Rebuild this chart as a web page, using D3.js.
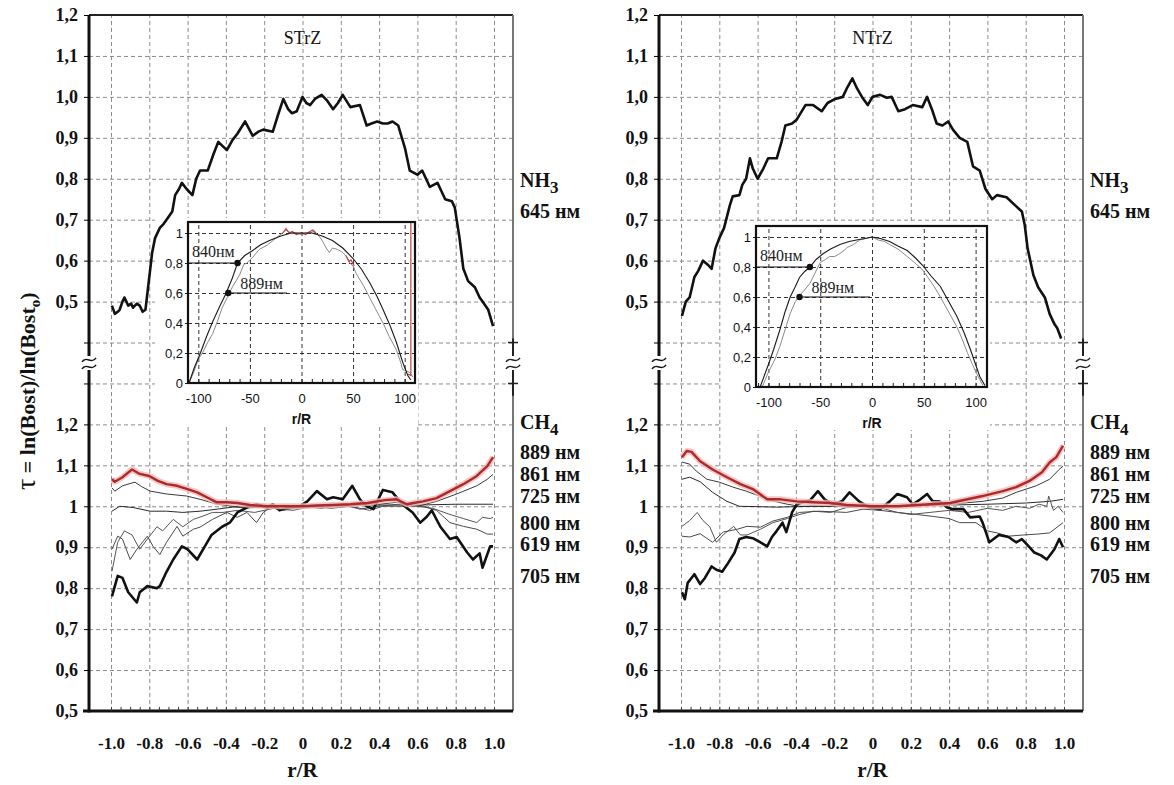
<!DOCTYPE html>
<html><head><meta charset="utf-8">
<script src="https://cdn.jsdelivr.net/npm/d3@7"></script>
<style>
body{margin:0;background:#fff}
svg{display:block}
</style>
</head><body><div id="chart"></div>
<script>
// ---- data ----
var panelTitles = ["STrZ", "NTrZ"];
var xTicks = [-1, -0.8, -0.6, -0.4, -0.2, 0, 0.2, 0.4, 0.6, 0.8, 1];
var xTickLabels = ["-1.0", "-0.8", "-0.6", "-0.4", "-0.2", "0", "0.2", "0.4", "0.6", "0.8", "1.0"];
var yTicks = [0.5, 0.6, 0.7, 0.8, 0.9, 1.0, 1.1, 1.2];
var yTopLabels = ["0,5", "0,6", "0,7", "0,8", "0,9", "1,0", "1,1", "1,2"];
var yBotLabels = ["0,5", "0,6", "0,7", "0,8", "0,9", "1", "1,1", "1,2"];
var gapTicks = [0.4, 0.3];
var insetXTicks = [-100, -50, 0, 50, 100];
var insetYTicks = [0, 0.2, 0.4, 0.6, 0.8, 1];
var insetYLabels = ["0", "0,2", "0,4", "0,6", "0,8", "1"];
var ch4Names = ["889 нм", "861 нм", "725 нм", "800 нм", "619 нм", "705 нм"];
var dotNames = ["840нм", "889нм"];

// NH3 645 nm
var nh3S = [[-0.995,0.49],[-0.98,0.47],[-0.965,0.475],[-0.955,0.48],[-0.94,0.50],[-0.93,0.51],[-0.91,0.49],[-0.895,0.495],[-0.885,0.485],[-0.865,0.495],[-0.85,0.49],[-0.835,0.475],[-0.82,0.48],[-0.805,0.54],[-0.795,0.58],[-0.785,0.62],[-0.77,0.655],[-0.745,0.68],[-0.725,0.69],[-0.71,0.70],[-0.68,0.72],[-0.665,0.76],[-0.645,0.775],[-0.63,0.79],[-0.605,0.775],[-0.585,0.765],[-0.575,0.76],[-0.555,0.80],[-0.535,0.82],[-0.495,0.82],[-0.465,0.86],[-0.44,0.89],[-0.395,0.87],[-0.365,0.895],[-0.34,0.91],[-0.30,0.94],[-0.26,0.905],[-0.23,0.915],[-0.205,0.92],[-0.155,0.915],[-0.125,0.96],[-0.10,0.995],[-0.075,0.97],[-0.055,0.96],[-0.03,0.965],[0,1.0],[0.02,0.985],[0.04,0.98],[0.065,0.995],[0.10,1.005],[0.13,0.99],[0.16,0.97],[0.185,0.985],[0.21,1.005],[0.25,0.975],[0.30,0.98],[0.335,0.93],[0.36,0.935],[0.39,0.94],[0.42,0.935],[0.445,0.935],[0.47,0.94],[0.50,0.93],[0.535,0.875],[0.56,0.82],[0.60,0.81],[0.625,0.82],[0.645,0.80],[0.665,0.78],[0.705,0.79],[0.725,0.77],[0.745,0.75],[0.78,0.745],[0.795,0.73],[0.82,0.655],[0.84,0.58],[0.865,0.55],[0.90,0.535],[0.925,0.51],[0.94,0.50],[0.97,0.48],[0.995,0.44]];
var nh3N = [[-0.995,0.465],[-0.975,0.50],[-0.955,0.51],[-0.93,0.56],[-0.91,0.575],[-0.885,0.60],[-0.86,0.59],[-0.84,0.58],[-0.82,0.63],[-0.80,0.655],[-0.775,0.68],[-0.745,0.735],[-0.73,0.757],[-0.695,0.76],[-0.68,0.785],[-0.66,0.80],[-0.64,0.85],[-0.625,0.825],[-0.60,0.80],[-0.57,0.825],[-0.545,0.85],[-0.50,0.85],[-0.475,0.89],[-0.455,0.93],[-0.42,0.935],[-0.395,0.945],[-0.35,0.98],[-0.31,0.98],[-0.265,0.965],[-0.235,0.985],[-0.195,0.995],[-0.155,1.0],[-0.135,1.02],[-0.105,1.045],[-0.08,1.02],[-0.055,1.0],[-0.025,0.98],[0,1.0],[0.04,1.005],[0.075,0.998],[0.10,1.0],[0.135,0.965],[0.17,0.97],[0.21,0.98],[0.26,0.975],[0.285,1.0],[0.31,0.97],[0.335,0.935],[0.365,0.93],[0.395,0.94],[0.42,0.92],[0.455,0.90],[0.495,0.89],[0.525,0.83],[0.56,0.82],[0.59,0.775],[0.625,0.75],[0.65,0.76],[0.70,0.755],[0.745,0.735],[0.78,0.72],[0.795,0.687],[0.81,0.63],[0.84,0.565],[0.865,0.535],[0.90,0.51],[0.925,0.47],[0.95,0.445],[0.965,0.435],[0.985,0.41]];

// CH4 group, STrZ
var s889 = [[-0.995,1.066],[-0.98,1.06],[-0.94,1.071],[-0.89,1.09],[-0.85,1.079],[-0.80,1.074],[-0.755,1.062],[-0.71,1.054],[-0.655,1.05],[-0.60,1.042],[-0.55,1.034],[-0.50,1.022],[-0.45,1.01],[-0.395,1.01],[-0.34,1.008],[-0.275,1.003],[-0.185,1.0],[-0.1,1.0],[0,1.0],[0.08,1.002],[0.16,1.003],[0.25,1.005],[0.34,1.008],[0.43,1.015],[0.49,1.017],[0.545,1.005],[0.58,1.008],[0.63,1.012],[0.70,1.02],[0.77,1.037],[0.84,1.054],[0.91,1.074],[0.965,1.098],[0.995,1.12]];
var s861 = [[-0.995,1.045],[-0.98,1.037],[-0.94,1.05],[-0.875,1.059],[-0.84,1.048],[-0.795,1.037],[-0.71,1.03],[-0.605,1.025],[-0.535,1.017],[-0.445,1.005],[-0.365,1.0],[-0.3,0.996],[-0.2,0.998],[-0.1,1.003],[0,1.0],[0.1,1.004],[0.2,1.0],[0.3,1.008],[0.4,1.005],[0.5,1.01],[0.6,1.0],[0.70,1.012],[0.805,1.03],[0.91,1.05],[0.965,1.066],[0.995,1.078]];
var s725 = [[-0.995,0.988],[-0.955,1.0],[-0.885,0.997],[-0.795,0.988],[-0.71,0.988],[-0.625,0.985],[-0.535,0.988],[-0.445,0.993],[-0.365,0.998],[-0.185,1.0],[0,1.0],[0.2,1.003],[0.4,1.003],[0.6,1.003],[0.8,1.005],[0.995,1.005]];
var s800 = [[-0.995,0.841],[-0.965,0.912],[-0.93,0.94],[-0.89,0.93],[-0.85,0.895],[-0.81,0.92],[-0.76,0.95],[-0.73,0.94],[-0.675,0.968],[-0.625,0.95],[-0.57,0.968],[-0.52,0.976],[-0.47,0.985],[-0.415,0.985],[-0.34,0.99],[-0.25,0.985],[-0.15,0.995],[-0.05,0.99],[0.05,1.0],[0.15,0.995],[0.25,1.0],[0.35,0.99],[0.42,1.0],[0.6,1.0],[0.68,0.995],[0.77,0.98],[0.84,0.97],[0.91,0.96],[0.94,0.973],[0.98,0.97],[0.995,0.973]];
var s619 = [[-0.995,0.895],[-0.965,0.927],[-0.94,0.92],[-0.90,0.87],[-0.865,0.895],[-0.81,0.927],[-0.78,0.902],[-0.745,0.882],[-0.71,0.912],[-0.655,0.951],[-0.625,0.927],[-0.57,0.944],[-0.535,0.949],[-0.47,0.968],[-0.395,0.985],[-0.34,0.973],[-0.29,0.985],[-0.24,0.96],[-0.205,0.985],[-0.17,0.997],[-0.1,0.99],[0,1.0],[0.1,0.995],[0.2,1.005],[0.3,0.993],[0.4,1.0],[0.5,1.005],[0.63,1.0],[0.70,0.99],[0.77,0.96],[0.84,0.951],[0.91,0.944],[0.965,0.932],[0.995,0.932]];
var s705 = [[-0.995,0.78],[-0.965,0.83],[-0.94,0.825],[-0.91,0.79],[-0.865,0.765],[-0.85,0.79],[-0.81,0.805],[-0.76,0.80],[-0.745,0.805],[-0.71,0.84],[-0.675,0.87],[-0.63,0.902],[-0.60,0.895],[-0.55,0.87],[-0.51,0.902],[-0.475,0.93],[-0.42,0.95],[-0.38,0.96],[-0.34,0.985],[-0.29,0.997],[-0.24,1.005],[-0.185,0.997],[-0.155,1.005],[-0.12,0.99],[-0.065,0.998],[-0.015,1.0],[0.025,1.012],[0.075,1.037],[0.128,1.017],[0.16,1.022],[0.21,1.017],[0.26,1.05],[0.30,1.017],[0.335,1.0],[0.37,0.993],[0.42,1.04],[0.47,1.034],[0.525,1.003],[0.575,0.985],[0.615,0.96],[0.65,0.975],[0.675,0.99],[0.72,0.95],[0.77,0.92],[0.805,0.925],[0.86,0.887],[0.89,0.87],[0.925,0.885],[0.94,0.85],[0.98,0.902],[0.995,0.902]];

// CH4 group, NTrZ
var n889 = [[-0.995,1.12],[-0.97,1.135],[-0.945,1.133],[-0.90,1.11],[-0.835,1.09],[-0.76,1.071],[-0.69,1.054],[-0.625,1.042],[-0.55,1.017],[-0.48,1.017],[-0.395,1.012],[-0.31,1.01],[-0.22,1.008],[-0.135,1.003],[0,1.0],[0.13,1.0],[0.30,1.005],[0.405,1.008],[0.575,1.025],[0.68,1.037],[0.75,1.047],[0.82,1.062],[0.885,1.083],[0.925,1.107],[0.96,1.12],[0.995,1.148]];
var n861 = [[-0.995,1.108],[-0.955,1.103],[-0.92,1.086],[-0.865,1.066],[-0.80,1.059],[-0.73,1.047],[-0.66,1.037],[-0.59,1.025],[-0.52,1.013],[-0.445,1.005],[-0.38,1.0],[0,1.0],[0.2,1.0],[0.4,1.005],[0.575,1.012],[0.68,1.02],[0.75,1.034],[0.855,1.05],[0.925,1.066],[0.975,1.09],[0.995,1.098]];
var n725 = [[-0.995,1.066],[-0.955,1.071],[-0.90,1.06],[-0.835,1.034],[-0.76,1.012],[-0.695,1.0],[-0.5,0.998],[-0.3,1.0],[0,1.0],[0.2,1.002],[0.4,1.003],[0.6,1.005],[0.8,1.008],[0.925,1.012],[0.995,1.017]];
var n800 = [[-0.995,0.951],[-0.955,0.965],[-0.915,0.985],[-0.885,0.965],[-0.85,0.95],[-0.815,0.912],[-0.78,0.93],[-0.725,0.951],[-0.69,0.93],[-0.655,0.93],[-0.585,0.944],[-0.52,0.96],[-0.445,0.97],[-0.38,0.98],[-0.31,0.988],[-0.22,0.985],[-0.135,0.997],[-0.05,1.0],[0.05,0.995],[0.13,0.985],[0.2,0.98],[0.3,0.985],[0.4,0.99],[0.5,0.985],[0.6,0.995],[0.68,0.99],[0.75,1.0],[0.82,0.995],[0.87,1.005],[0.91,1.0],[0.92,1.025],[0.945,0.99],[0.97,1.0],[0.995,0.985]];
var n619 = [[-0.995,0.927],[-0.955,0.925],[-0.90,0.933],[-0.835,0.912],[-0.78,0.937],[-0.705,0.944],[-0.655,0.951],[-0.585,0.949],[-0.52,0.964],[-0.445,0.973],[-0.38,0.985],[-0.28,0.988],[-0.135,0.985],[-0.05,0.993],[0.04,0.99],[0.13,0.985],[0.23,0.98],[0.32,0.975],[0.4,0.97],[0.455,0.96],[0.54,0.96],[0.6,0.94],[0.65,0.935],[0.71,0.927],[0.79,0.93],[0.86,0.932],[0.925,0.935],[0.995,0.96]];
var n705 = [[-0.995,0.79],[-0.98,0.773],[-0.965,0.813],[-0.93,0.834],[-0.90,0.81],[-0.875,0.825],[-0.84,0.853],[-0.815,0.845],[-0.785,0.84],[-0.76,0.857],[-0.72,0.887],[-0.695,0.92],[-0.66,0.925],[-0.625,0.922],[-0.585,0.912],[-0.55,0.902],[-0.525,0.925],[-0.50,0.94],[-0.47,0.96],[-0.45,0.937],[-0.42,0.985],[-0.395,1.005],[-0.365,1.01],[-0.325,1.015],[-0.285,1.037],[-0.25,1.017],[-0.21,1.005],[-0.16,1.012],[-0.12,1.034],[-0.07,1.012],[-0.015,0.997],[0.04,0.993],[0.09,1.012],[0.13,1.03],[0.18,1.022],[0.21,1.005],[0.25,1.017],[0.285,1.03],[0.315,1.012],[0.35,1.012],[0.39,0.997],[0.42,0.993],[0.475,0.993],[0.51,0.973],[0.56,0.975],[0.575,0.96],[0.61,0.912],[0.66,0.93],[0.71,0.925],[0.75,0.912],[0.78,0.92],[0.81,0.905],[0.845,0.887],[0.88,0.88],[0.91,0.87],[0.95,0.895],[0.975,0.92],[0.995,0.9]];

// insets: limb profiles, r/R in %
var insS840 = [[-109,0],[-104,0.1],[-98,0.2],[-92,0.31],[-86,0.41],[-80,0.5],[-73,0.6],[-67,0.7],[-62,0.8],[-55,0.85],[-48,0.88],[-40,0.92],[-31,0.95],[-20,0.98],[-10,1.0],[0,1.0],[10,1.0],[20,0.98],[30,0.95],[40,0.9],[50,0.83],[58,0.76],[66,0.67],[73,0.58],[79,0.49],[86,0.38],[92,0.27],[98,0.14],[103,0.05],[106,0.02]];
var insS889 = [[-109,0],[-104,0.08],[-100,0.16],[-96,0.2],[-91,0.27],[-86,0.33],[-81,0.42],[-77,0.5],[-72,0.57],[-67,0.64],[-60,0.72],[-56,0.79],[-53,0.8],[-47,0.84],[-41,0.89],[-33,0.92],[-24,0.97],[-15,1.02],[-10,1.0],[-5,1.0],[0,0.99],[4,1.0],[8,1.0],[11,1.01],[14,1.0],[17,0.98],[20,0.95],[24,0.9],[27,0.87],[30,0.9],[35,0.89],[40,0.87],[44,0.84],[47,0.8],[50,0.78],[53,0.73],[60,0.65],[66,0.57],[72,0.49],[79,0.4],[85,0.31],[92,0.22],[96,0.14],[98,0.09],[102,0.08],[105,0.07],[108,0.04]];
var insSred1 = [[-18,1.0],[-15,1.03],[-12,1.0],[-9,1.01],[-5,0.99],[0,1.0],[4,0.99],[8,1.01],[11,1.02],[14,1.0]];
var insSred2 = [[43,0.85],[46,0.81],[48,0.82],[51,0.78]];
var insSred3 = [[103,0.06],[106,0.05],[106,1.07]];
var insSdots = [[-62,0.8],[-71,0.6]];
var insN840 = [[-108,0],[-100,0.15],[-95,0.25],[-89,0.38],[-84,0.5],[-79,0.6],[-74,0.67],[-70,0.73],[-65,0.77],[-60,0.8],[-54,0.85],[-47,0.89],[-40,0.92],[-31,0.95],[-22,0.97],[-15,0.98],[-7,0.99],[0,1.0],[8,0.99],[17,0.97],[25,0.94],[34,0.91],[42,0.86],[49,0.81],[57,0.74],[66,0.67],[74,0.57],[82,0.47],[89,0.36],[95,0.25],[100,0.15],[104,0.07],[109,0.01]];
var insN889 = [[-106,0],[-100,0.1],[-94,0.18],[-89,0.27],[-84,0.38],[-79,0.49],[-74,0.57],[-70,0.61],[-66,0.64],[-60,0.69],[-55,0.76],[-50,0.83],[-45,0.85],[-41,0.87],[-36,0.87],[-31,0.89],[-27,0.91],[-24,0.93],[-18,0.95],[-12,0.98],[-6,0.99],[0,1.0],[6,0.98],[12,0.97],[17,0.95],[25,0.92],[34,0.87],[41,0.83],[49,0.78],[54,0.73],[60,0.67],[66,0.6],[74,0.5],[82,0.4],[87,0.32],[92,0.23],[97,0.15],[101,0.09],[104,0.05],[107,0.01]];
var insNdots = [[-60,0.8],[-70,0.6]];

// ---- layout ----
var W = 1174, H = 785;
var serif = '"Liberation Serif","Times New Roman",serif';
var sans = '"Liberation Sans",Arial,sans-serif';
var gTop = 15, gStep = 40.94;
var gBottom = gTop + 17 * gStep;

var panels = [
	{ax: 89, right: 513, labelX: 520, nh3: nh3S, ch4: [s889, s861, s725, s800, s619, s705],
	 inset: {x0: 188, x1: 415, bottom: 383, frameTop: 222, dom: [-110, 110], wb: [155, 418],
	         black: insS840, gray: insS889, red: [insSred1, insSred2, insSred3], dots: insSdots, end889: 287}},
	{ax: 659, right: 1083, labelX: 1090, nh3: nh3N, ch4: [n889, n861, n725, n800, n619, n705],
	 inset: {x0: 756, x1: 987, bottom: 387, frameTop: 226, dom: [-112, 111], wb: [722, 990],
	         black: insN840, gray: insN889, red: [], dots: insNdots, end889: 870}}
];

var svg = d3.select("#chart").append("svg").attr("width", W).attr("height", H);
svg.append("rect").attr("width", W).attr("height", H).attr("fill", "#fff");

function styleAxis(g, font, size, weight){
	g.attr("font-family", font).attr("font-size", size).attr("font-weight", weight);
	g.select(".domain").remove();
	g.selectAll("text").attr("fill", "#111");
}

function breakMark(g, cx, cy, col){
	g.append("rect").attr("x", cx - 6).attr("y", cy - 7).attr("width", 12).attr("height", 14).attr("fill", "#fff");
	[-3, 4].forEach(function(o){
		g.append("path")
			.attr("d", "M" + (cx - 7) + "," + (cy + o + 2) + " C" + (cx - 3) + "," + (cy + o - 5) + " " + (cx + 3) + "," + (cy + o + 5) + " " + (cx + 7) + "," + (cy + o - 2))
			.attr("fill", "none").attr("stroke", col).attr("stroke-width", 1.5);
	});
}

function drawPanel(p, idx){
	var g = svg.append("g").attr("class", "panel" + idx);
	var x = d3.scaleLinear().domain([-1, 1]).range([p.ax + 22, p.ax + 405]);
	var yTop = d3.scaleLinear().domain([0.5, 1.2]).range([gTop + 7 * gStep, gTop]);
	var yBot = d3.scaleLinear().domain([0.5, 1.2]).range([gBottom, gTop + 10 * gStep]);
	var w = p.right - p.ax;

	// grid
	var grid = g.append("g").attr("class", "grid");
	grid.append("g").attr("transform", "translate(0," + gBottom + ")")
		.call(d3.axisBottom(x).tickValues(xTicks).tickFormat("").tickSize(-(gBottom - gTop)));
	grid.append("g").attr("transform", "translate(" + p.ax + ",0)")
		.call(d3.axisLeft(yTop).tickValues([0.3, 0.4, 0.5, 0.6, 0.7, 0.8, 0.9, 1.0, 1.1]).tickFormat("").tickSize(-w));
	grid.append("g").attr("transform", "translate(" + p.ax + ",0)")
		.call(d3.axisLeft(yBot).tickValues([0.6, 0.7, 0.8, 0.9, 1.0, 1.1, 1.2]).tickFormat("").tickSize(-w));
	grid.selectAll(".domain").remove();
	grid.selectAll("line").attr("stroke", "#8c8c8c").attr("stroke-width", 1).attr("stroke-dasharray", "4,3");

	// frame
	g.append("line").attr("x1", p.ax).attr("x2", p.right).attr("y1", gTop).attr("y2", gTop)
		.attr("stroke", "#222").attr("stroke-width", 2);
	g.append("line").attr("x1", p.right).attr("x2", p.right).attr("y1", gTop).attr("y2", gBottom)
		.attr("stroke", "#777").attr("stroke-width", 2);
	g.append("line").attr("x1", p.right).attr("x2", p.right).attr("y1", yTop(0.41)).attr("y2", yTop(0.27))
		.attr("stroke", "#222").attr("stroke-width", 2);
	gapTicks.forEach(function(v){
		g.append("line").attr("x1", p.right - 5).attr("x2", p.right + 5).attr("y1", yTop(v)).attr("y2", yTop(v))
			.attr("stroke", "#222").attr("stroke-width", 1.5);
	});
	breakMark(g, p.right, (yTop(0.4) + yTop(0.3)) / 2, "#222");

	// y axis
	g.append("line").attr("x1", p.ax).attr("x2", p.ax).attr("y1", gTop).attr("y2", gBottom + 1.5)
		.attr("stroke", "#111").attr("stroke-width", 3);
	var ya1 = g.append("g").attr("transform", "translate(" + p.ax + ",0)")
		.call(d3.axisLeft(yTop).tickValues(yTicks).tickFormat(function(d, i){ return yTopLabels[i]; }).tickSize(5).tickPadding(6));
	styleAxis(ya1, serif, 18, "bold");
	var ya2 = g.append("g").attr("transform", "translate(" + p.ax + ",0)")
		.call(d3.axisLeft(yBot).tickValues(yTicks).tickFormat(function(d, i){ return yBotLabels[i]; }).tickSize(5).tickPadding(6));
	styleAxis(ya2, serif, 18, "bold");
	var ya3 = g.append("g").attr("transform", "translate(" + p.ax + ",0)")
		.call(d3.axisLeft(yTop).tickValues(gapTicks).tickFormat("").tickSize(5));
	ya3.select(".domain").remove();
	breakMark(g, p.ax, (yTop(0.4) + yTop(0.3)) / 2, "#111");

	// x axis
	g.append("line").attr("x1", p.ax - 6).attr("x2", p.right).attr("y1", gBottom).attr("y2", gBottom)
		.attr("stroke", "#111").attr("stroke-width", 3);
	var xm = g.append("g").attr("transform", "translate(0," + gBottom + ")")
		.call(d3.axisBottom(x).tickValues(d3.range(-20, 21).map(function(k){ return k * 0.05; })).tickFormat("").tickSize(-4));
	xm.select(".domain").remove();
	xm.selectAll("line").attr("stroke", "#333");
	var xa = g.append("g").attr("transform", "translate(0," + gBottom + ")")
		.call(d3.axisBottom(x).tickValues(xTicks).tickFormat(function(d, i){ return xTickLabels[i]; }).tickSize(0).tickPadding(26));
	styleAxis(xa, serif, 17, "bold");
	g.append("text").attr("x", x(0)).attr("y", 777).attr("text-anchor", "middle")
		.attr("font-family", serif).attr("font-size", 21).attr("font-weight", "bold").attr("fill", "#111").text("r/R");

	// title
	g.append("text").attr("x", x(0)).attr("y", 44).attr("text-anchor", "middle")
		.attr("font-family", serif).attr("font-size", 18).attr("fill", "#111").text(panelTitles[idx]);

	// inset
	drawInset(g, p.inset);

	// curves
	var lineTop = d3.line().x(function(d){ return x(d[0]); }).y(function(d){ return yTop(d[1]); });
	var lineBot = d3.line().x(function(d){ return x(d[0]); }).y(function(d){ return yBot(d[1]); });
	var thin = [null, {c: "#3a3a3a", w: 1}, {c: "#2a2a2a", w: 1}, {c: "#555", w: 1}, {c: "#4a4a4a", w: 1}];
	for (var i = 1; i <= 4; i++){
		g.append("path").attr("d", lineBot(p.ch4[i])).attr("fill", "none")
			.attr("stroke", thin[i].c).attr("stroke-width", thin[i].w).attr("stroke-linejoin", "round");
	}
	g.append("path").attr("d", lineBot(p.ch4[5])).attr("fill", "none")
		.attr("stroke", "#111").attr("stroke-width", 2.6).attr("stroke-linejoin", "round");
	g.append("path").attr("d", lineBot(p.ch4[0])).attr("fill", "none")
		.attr("stroke", "#f2b9b9").attr("stroke-width", 6).attr("stroke-opacity", 0.8).attr("stroke-linejoin", "round");
	g.append("path").attr("d", lineBot(p.ch4[0])).attr("fill", "none")
		.attr("stroke", "#ae2a2a").attr("stroke-width", 2.4).attr("stroke-linejoin", "round");
	g.append("path").attr("d", lineTop(p.nh3)).attr("fill", "none")
		.attr("stroke", "#111").attr("stroke-width", 2.6).attr("stroke-linejoin", "round");

	// right-side labels
	var lab = g.append("g").attr("font-family", serif).attr("font-weight", "bold").attr("font-size", 20).attr("fill", "#111");
	var t1 = lab.append("text").attr("x", p.labelX).attr("y", 187);
	t1.append("tspan").text("NH");
	t1.append("tspan").attr("dy", 6).attr("font-size", 17).text("3");
	lab.append("text").attr("x", p.labelX).attr("y", 218).text("645 нм");
	var t2 = lab.append("text").attr("x", p.labelX).attr("y", 429);
	t2.append("tspan").text("CH");
	t2.append("tspan").attr("dy", 6).attr("font-size", 17).text("4");
	var ys = [459, 481, 503, 530, 551, 583];
	ch4Names.forEach(function(n, i){
		lab.append("text").attr("x", p.labelX).attr("y", ys[i]).text(n);
	});
}

function drawInset(g, c){
	var xi = d3.scaleLinear().domain(c.dom).range([c.x0, c.x1]);
	var yi = d3.scaleLinear().domain([0, 1]).range([c.bottom, c.bottom - 150]);
	var ig = g.append("g").attr("class", "inset");
	ig.append("rect").attr("x", c.wb[0]).attr("y", c.frameTop - 4).attr("width", c.wb[1] - c.wb[0])
		.attr("height", c.bottom + 47 - c.frameTop).attr("fill", "#fff");

	var grid = ig.append("g");
	grid.append("g").attr("transform", "translate(0," + c.bottom + ")")
		.call(d3.axisBottom(xi).tickValues(insetXTicks).tickFormat("").tickSize(-(c.bottom - c.frameTop)));
	grid.append("g").attr("transform", "translate(" + c.x0 + ",0)")
		.call(d3.axisLeft(yi).tickValues([0.2, 0.4, 0.6, 0.8, 1]).tickFormat("").tickSize(-(c.x1 - c.x0)));
	grid.selectAll(".domain").remove();
	grid.selectAll("line").attr("stroke", "#333").attr("stroke-width", 1).attr("stroke-dasharray", "4,3");

	var mx = ig.append("g").attr("transform", "translate(0," + c.bottom + ")")
		.call(d3.axisBottom(xi).tickValues(d3.range(-11, 12).map(function(k){ return k * 10; })).tickFormat("").tickSize(-4));
	mx.select(".domain").remove();
	mx.selectAll("line").attr("stroke", "#222");
	var ax = ig.append("g").attr("transform", "translate(0," + c.bottom + ")")
		.call(d3.axisBottom(xi).tickValues(insetXTicks).tickFormat(function(d){ return d; }).tickSize(0).tickPadding(11));
	styleAxis(ax, sans, 13, "normal");
	var ay = ig.append("g").attr("transform", "translate(" + c.x0 + ",0)")
		.call(d3.axisLeft(yi).tickValues(insetYTicks).tickFormat(function(d, i){ return insetYLabels[i]; }).tickSize(3).tickPadding(2));
	styleAxis(ay, sans, 13, "normal");
	ay.selectAll("line").attr("stroke", "#222");
	ig.append("text").attr("x", xi(0)).attr("y", c.bottom + 41).attr("text-anchor", "middle")
		.attr("font-family", sans).attr("font-size", 14).attr("font-weight", "bold").attr("fill", "#111").text("r/R");

	var line = d3.line().x(function(d){ return xi(d[0]); }).y(function(d){ return yi(d[1]); });
	ig.append("path").attr("d", line(c.gray)).attr("fill", "none").attr("stroke", "#8a8a8a").attr("stroke-width", 1);
	c.red.forEach(function(r){
		ig.append("path").attr("d", line(r)).attr("fill", "none").attr("stroke", "#c04040").attr("stroke-width", 1.2);
	});
	ig.append("path").attr("d", line(c.black)).attr("fill", "none").attr("stroke", "#1a1a1a").attr("stroke-width", 1.1);

	ig.append("rect").attr("x", c.x0).attr("y", c.frameTop).attr("width", c.x1 - c.x0).attr("height", c.bottom - c.frameTop)
		.attr("fill", "none").attr("stroke", "#111").attr("stroke-width", 2.2);

	// annotations
	var d840 = c.dots[0], d889 = c.dots[1];
	ig.append("line").attr("x1", c.x0).attr("x2", xi(d840[0])).attr("y1", yi(d840[1])).attr("y2", yi(d840[1]))
		.attr("stroke", "#111").attr("stroke-width", 1.2);
	ig.append("line").attr("x1", xi(d889[0])).attr("x2", c.end889).attr("y1", yi(d889[1])).attr("y2", yi(d889[1]))
		.attr("stroke", "#111").attr("stroke-width", 1.2);
	ig.selectAll("circle.dot").data(c.dots).enter().append("circle").attr("class", "dot")
		.attr("cx", function(d){ return xi(d[0]); }).attr("cy", function(d){ return yi(d[1]); })
		.attr("r", 3.2).attr("fill", "#111");
	ig.append("text").attr("x", c.x0 + 4).attr("y", yi(d840[1]) - 6)
		.attr("font-family", serif).attr("font-size", 16).attr("fill", "#222").text(dotNames[0]);
	ig.append("text").attr("x", xi(d889[0]) + 12).attr("y", yi(d889[1]) - 4)
		.attr("font-family", serif).attr("font-size", 16).attr("fill", "#222").text(dotNames[1]);
}

panels.forEach(drawPanel);

// y title
var yt = svg.append("text").attr("transform", "translate(35,490) rotate(-90)")
	.attr("font-family", serif).attr("fill", "#111");
yt.append("tspan").attr("font-size", 28).text("τ");
yt.append("tspan").attr("font-size", 22).attr("font-weight", "bold").text("  =  ln(Bost)/ln(Bost");
yt.append("tspan").attr("font-size", 15).attr("font-weight", "bold").attr("dy", 5).text("o");
yt.append("tspan").attr("font-size", 22).attr("font-weight", "bold").attr("dy", -5).text(")");
</script>
</body></html>
